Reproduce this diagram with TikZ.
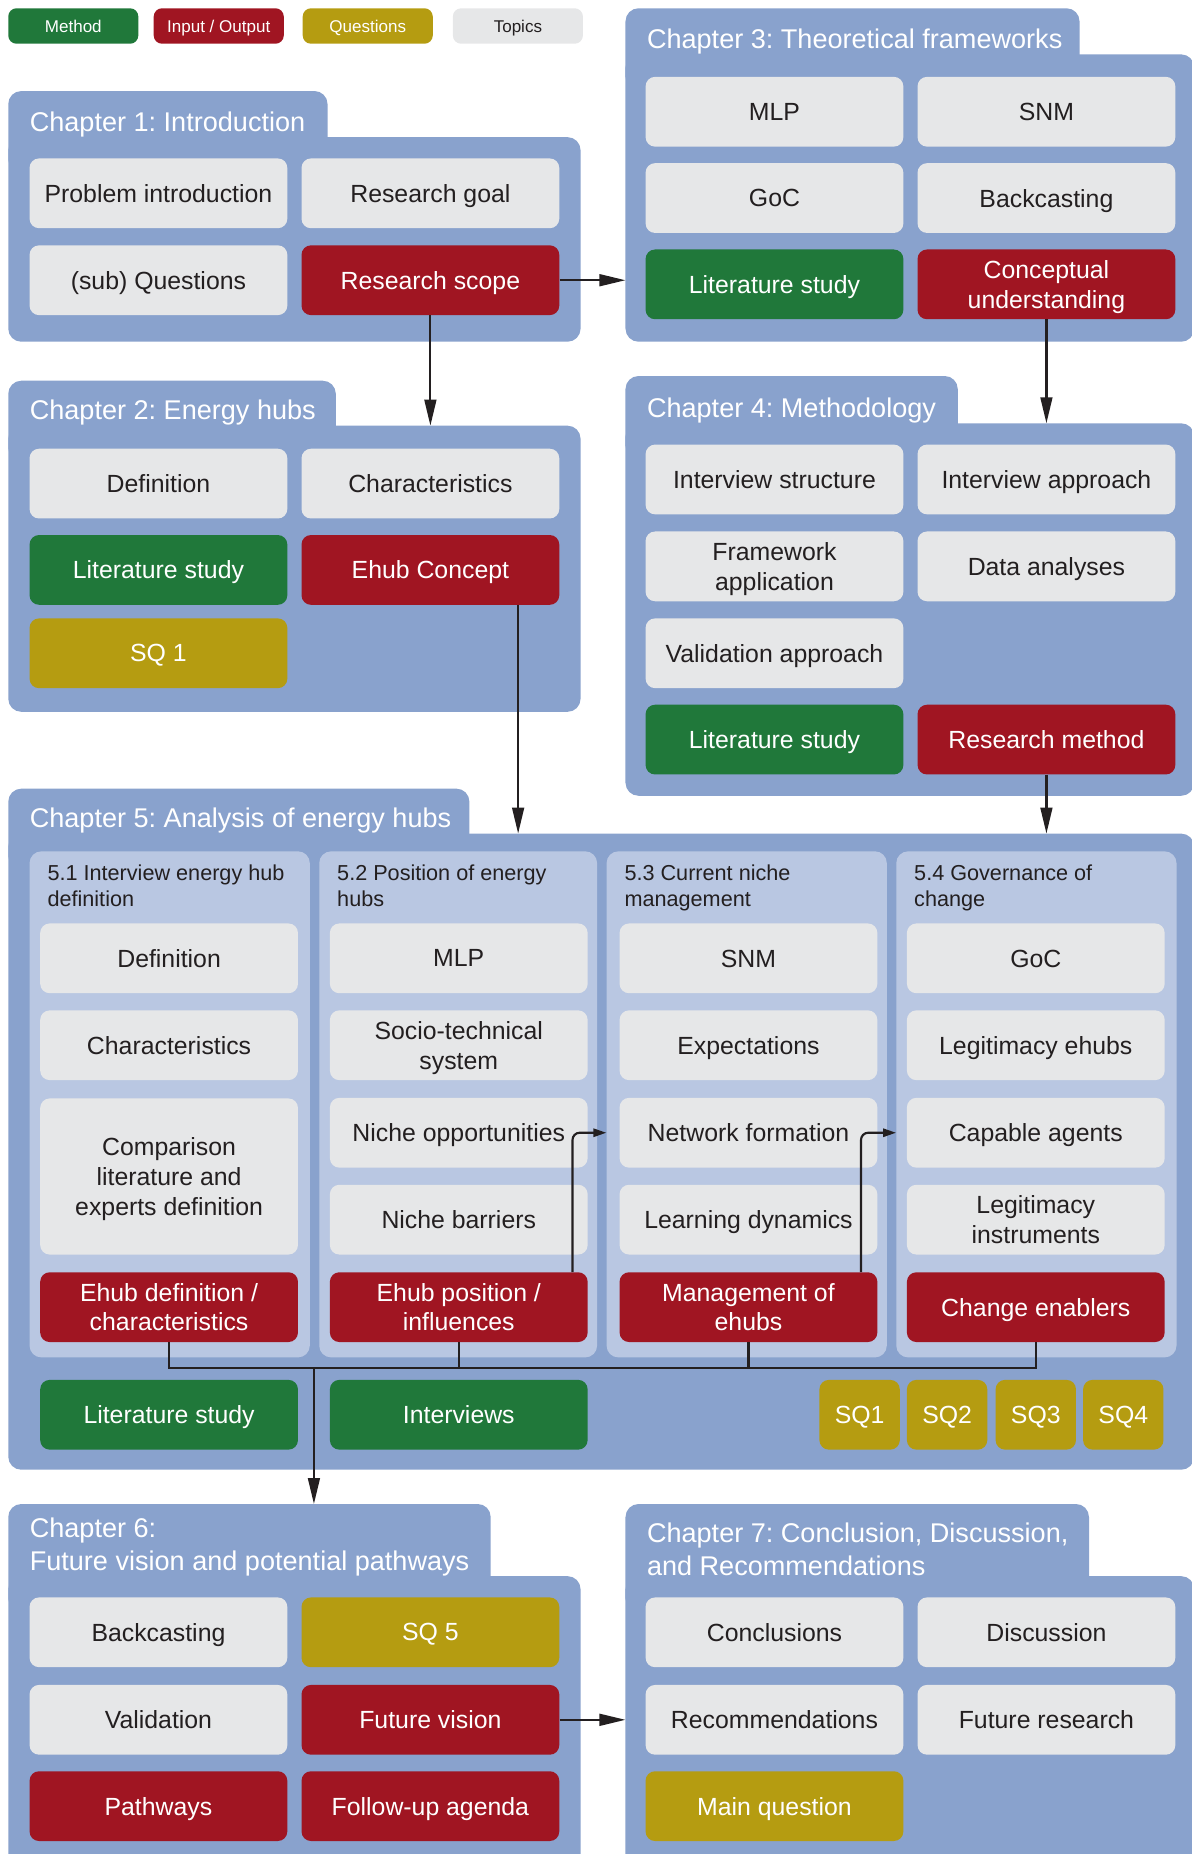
\documentclass[tikz,border=0pt]{standalone}
\usepackage{fontspec}
\setmainfont{Liberation Sans}
\usetikzlibrary{arrows.meta,calc}
\frenchspacing

\definecolor{chapblue}{HTML}{89A2CD}
\definecolor{subblue}{HTML}{B9C7E2}
\definecolor{topicgray}{HTML}{E6E7E8}
\definecolor{methgreen}{HTML}{20783A}
\definecolor{iored}{HTML}{A01522}
\definecolor{questolive}{HTML}{B59C11}
\definecolor{ink}{HTML}{231F20}

\newcommand\boxtxt{\fontsize{21}{25}\selectfont}
\newcommand\chtitletxt{\fontsize{22.9}{28}\selectfont}
\newcommand\subtxt{\fontsize{18.3}{22}\selectfont}
\newcommand\legtxt{\fontsize{14.4}{17}\selectfont}

\tikzset{
  box/.style={rounded corners=8, inner sep=0pt, align=center, text depth=0pt,
    minimum width=218, minimum height=59, font=\boxtxt},
  topic/.style={box, fill=topicgray, text=ink},
  meth/.style={box, fill=methgreen, text=white},
  io/.style={box, fill=iored, text=white},
  quest/.style={box, fill=questolive, text=white},
  legend/.style={minimum width=110, minimum height=30, rounded corners=7, font=\legtxt},
  subpanel/.style={fill=subblue, rounded corners=10, inner sep=0pt},
  subhead/.style={anchor=north west, align=left, inner sep=0pt, text=ink, font=\subtxt},
  chtitle/.style={anchor=south west, align=left, inner sep=0pt, text=white, font=\chtitletxt},
  conn/.style={draw=ink, line width=1.8},
  arr/.style={conn, -{Triangle[length=22,width=10]}},
  sarr/.style={conn, rounded corners=6, -{Triangle[length=11,width=7]}},
}

% chapter panel: name, left, tab right, tab top, body top, body right, bottom, title
\newcommand\chpanel[8]{%
  \fill[chapblue, rounded corners=11] (#2,#4) rectangle (#3,#5+30);
  \fill[chapblue, rounded corners=11] (#2,#5) rectangle (#6,#7);
  \coordinate (#1-tab) at (#2,#4);
  \coordinate (#1-body) at (#2,#5);
  \node[chtitle] (#1-title) at (#2+18,#5) {#8};
}

\begin{document}
\begin{tikzpicture}[x=1pt, y=-1pt]
\useasboundingbox (0,0) rectangle (1008,1568);
\clip (0,0) rectangle (1008,1568);

% legend
\node[meth, legend] (legm) at (62,22) {Method};
\node[io, legend] (legio) at (185,22) {Input / Output};
\node[quest, legend] (legq) at (311,22) {Questions};
\node[topic, legend] (legt) at (438,22) {Topics};

% chapter panels
\chpanel{ch1}{7}{277}{77}{116}{491}{289}{Chapter 1: Introduction}
\chpanel{ch2}{7}{284}{322}{360}{491}{602}{Chapter 2: Energy hubs}
\chpanel{ch3}{529}{913}{7}{46}{1010}{289}{Chapter 3: Theoretical frameworks}
\chpanel{ch4}{529}{810}{318}{358}{1010}{673}{Chapter 4: Methodology}
\chpanel{ch5}{7}{397}{667}{705}{1010}{1243}{Chapter 5: Analysis of energy hubs}
\chpanel{ch6}{7}{415}{1272}{1333}{491}{1590}{Chapter 6:\\Future vision and potential pathways}
\chpanel{ch7}{529}{921}{1272}{1333}{1010}{1590}{Chapter 7: Conclusion, Discussion,\\and Recommendations}

% chapter 1
\node[topic] (probintro) at (134,163.5) {Problem introduction};
\node[topic] (resgoal) at (364,163.5) {Research goal};
\node[topic] (subq) at (134,237) {(sub) Questions};
\node[io] (scope) at (364,237) {Research scope};

% chapter 2
\node[topic] (defin2) at (134,409) {Definition};
\node[topic] (charac2) at (364,409) {Characteristics};
\node[meth] (lit2) at (134,482) {Literature study};
\node[io] (ehub) at (364,482) {Ehub Concept};
\node[quest] (sq1a) at (134,552.5) {SQ 1};

% chapter 3
\node[topic] (mlp3) at (655,94.5) {MLP};
\node[topic] (snm3) at (885,94.5) {SNM};
\node[topic] (goc3) at (655,167.5) {GoC};
\node[topic] (backc3) at (885,167.5) {Backcasting};
\node[meth] (lit3) at (655,240.5) {Literature study};
\node[io] (concept) at (885,240.5) {Conceptual\\understanding};

% chapter 4
\node[topic] (intstruct) at (655,405.5) {Interview structure};
\node[topic] (intappr) at (885,405.5) {Interview approach};
\node[topic] (frameapp) at (655,479) {Framework\\application};
\node[topic] (dataan) at (885,479) {Data analyses};
\node[topic] (validappr) at (655,552.5) {Validation approach};
\node[meth] (lit4) at (655,625.5) {Literature study};
\node[io] (resmeth) at (885,625.5) {Research method};

% chapter 5 sub panels
\node[subpanel, minimum width=237, minimum height=428] (p51) at (143.5,934) {};
\node[subpanel, minimum width=235, minimum height=428] (p52) at (387.5,934) {};
\node[subpanel, minimum width=237, minimum height=428] (p53) at (631.5,934) {};
\node[subpanel, minimum width=237, minimum height=428] (p54) at (876.5,934) {};
\node[subhead] (h51) at (40,731) {5.1 Interview energy hub\\definition};
\node[subhead] (h52) at (285,731) {5.2 Position of energy\\hubs};
\node[subhead] (h53) at (528,731) {5.3 Current niche\\management};
\node[subhead] (h54) at (773,731) {5.4 Governance of\\change};

\node[topic] (defin5) at (143,810.5) {Definition};
\node[topic] (charac5) at (143,884) {Characteristics};
\node[topic, minimum height=132] (compar) at (143,995) {Comparison\\literature and\\experts definition};
\node[io] (edef) at (143,1105.5) {Ehub definition /\\characteristics};

\node[topic] (mlp5) at (388,810.5) {MLP};
\node[topic] (sociotech) at (388,884) {Socio-technical\\system};
\node[topic] (nicheopp) at (388,958) {Niche opportunities};
\node[topic] (nichebar) at (388,1031.5) {Niche barriers};
\node[io] (epos) at (388,1105.5) {Ehub position /\\influences};

\node[topic] (snm5) at (633,810.5) {SNM};
\node[topic] (expect) at (633,884) {Expectations};
\node[topic] (netform) at (633,958) {Network formation};
\node[topic] (learndyn) at (633,1031.5) {Learning dynamics};
\node[io] (mgmt) at (633,1105.5) {Management of\\ehubs};

\node[topic] (goc5) at (876,810.5) {GoC};
\node[topic] (legehubs) at (876,884) {Legitimacy ehubs};
\node[topic] (capag) at (876,958) {Capable agents};
\node[topic] (leginst) at (876,1031.5) {Legitimacy\\instruments};
\node[io] (change) at (876,1105.5) {Change enablers};

\node[meth] (lit5) at (143,1196.5) {Literature study};
\node[meth] (intv) at (388,1196.5) {Interviews};
\node[quest, minimum width=68] (sqa) at (727,1196.5) {SQ1};
\node[quest, minimum width=68] (sqb) at (801,1196.5) {SQ2};
\node[quest, minimum width=68] (sqc) at (876,1196.5) {SQ3};
\node[quest, minimum width=68] (sqd) at (950,1196.5) {SQ4};

% chapter 6
\node[topic] (backc6) at (134,1380.5) {Backcasting};
\node[quest] (sq5) at (364,1380.5) {SQ 5};
\node[topic] (valid6) at (134,1454.5) {Validation};
\node[io] (futvis) at (364,1454.5) {Future vision};
\node[io] (pathw) at (134,1527.5) {Pathways};
\node[io] (followup) at (364,1527.5) {Follow-up agenda};

% chapter 7
\node[topic] (concl) at (655,1380.5) {Conclusions};
\node[topic] (discus) at (885,1380.5) {Discussion};
\node[topic] (recomm) at (655,1454.5) {Recommendations};
\node[topic] (futres) at (885,1454.5) {Future research};
\node[quest] (mainq) at (655,1527.5) {Main question};

% connectors between chapters
\draw[arr] (scope.east) -- (scope.east -| ch3-body);
\draw[arr] (scope.south) -- (scope.south |- ch2-body);
\draw[arr] (concept.south) -- (concept.south |- ch4-body);
\coordinate (ehubout) at ([xshift=-35]ehub.south east);
\draw[arr] (ehubout) -- (ehubout |- ch5-body);
\draw[arr] (resmeth.south) -- (resmeth.south |- ch5-body);

% connectors inside chapter 5
\coordinate (posup) at ([xshift=-13]epos.north east);
\draw[sarr] (posup) |- (nicheopp.east -| p53.west);
\coordinate (mgmtup) at ([xshift=-14]mgmt.north east);
\draw[sarr] (mgmtup) |- (netform.east -| p54.west);

\coordinate (bus) at (0,1157);
\draw[conn] (edef.south) -- (edef.south |- bus) -- (change.south |- bus) -- (change.south);
\draw[conn] (epos.south) -- (epos.south |- bus);
\draw[conn] (mgmt.south) -- (mgmt.south |- bus);
\coordinate (drop) at ($(lit5.east)!0.5!(intv.west)$);
\draw[arr] (drop |- bus) -- (drop |- ch6-tab);

\draw[arr] (futvis.east) -- (futvis.east -| ch7-body);
\end{tikzpicture}
\end{document}
